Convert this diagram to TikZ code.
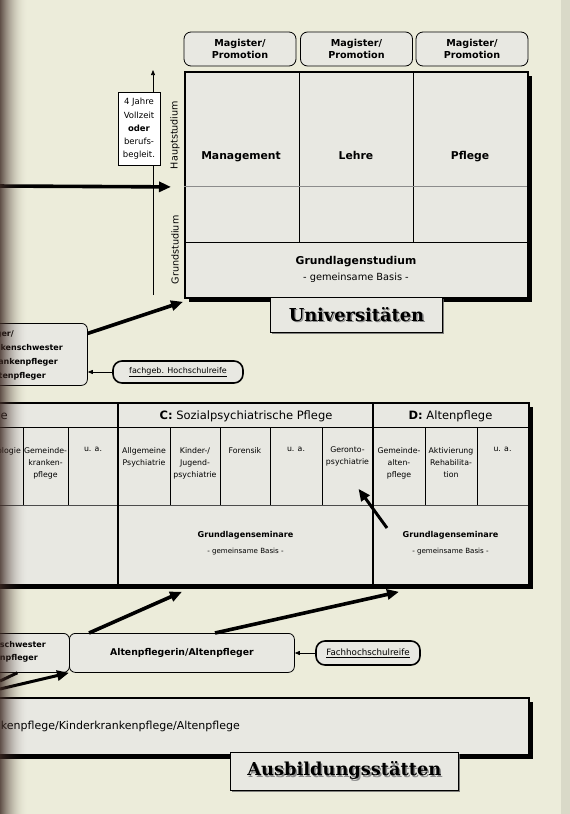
\documentclass[tikz,border=0pt]{standalone}
\usepackage{fontspec}
\setmainfont{DejaVu Sans}
\newfontfamily\titlefont{DejaVu Serif}
\usetikzlibrary{arrows.meta,shadows,calc}
\definecolor{bg}{RGB}{236,236,218}
\definecolor{boxfill}{RGB}{232,232,226}
\definecolor{bind}{RGB}{62,42,36}
\newcommand{\shadowtext}[1]{\makebox[0pt][l]{\hspace{1.4pt}\raisebox{-1.4pt}{\textcolor{black!45}{#1}}}#1}
\begin{document}
\begin{tikzpicture}[x=1pt,y=-1pt,
  frame/.style={draw=black, line width=1.8pt, fill=boxfill, inner sep=0pt, anchor=north west,
    drop shadow={shadow xshift=4.5pt, shadow yshift=-4.5pt, fill=black, opacity=1}},
  magbox/.style={draw=black, line width=0.8pt, rounded corners=7pt, fill=boxfill, minimum width=112pt,
    minimum height=34pt, inner sep=0pt, align=center, font=\bfseries\fontsize{9.6}{12.5}\selectfont},
  rbox/.style={draw=black, line width=0.8pt, rounded corners=6pt, fill=boxfill, inner sep=0pt, anchor=north west},
  pill/.style={draw=black, line width=1.6pt, rounded corners=9pt, fill=boxfill, inner sep=0pt},
  txt/.style={inner sep=0pt},
  frag/.style={inner sep=0pt, anchor=east, font=\bfseries\fontsize{8}{10}\selectfont},
  coltxt/.style={inner sep=0pt, align=center, anchor=north, font=\fontsize{7.8}{12}\selectfont},
  big/.style={line width=3.6pt, -{Triangle[length=12pt,width=10pt]}},
  thinarr/.style={line width=0.7pt, -{Triangle[length=5pt,width=4pt]}},
  grid/.style={line width=0.9pt},
  titlebox/.style={draw=black, line width=0.8pt, fill=boxfill, inner sep=0pt, anchor=north west,
    drop shadow={shadow xshift=2pt, shadow yshift=-2pt, fill=black!60, opacity=0.8}},
  titletxt/.style={inner sep=0pt, font=\titlefont\bfseries\fontsize{17.8}{20}\selectfont},
  head/.style={inner sep=0pt, anchor=base, font=\bfseries\fontsize{10.8}{13}\selectfont},
]
\fill[bg] (0,0) rectangle (570,814);
\useasboundingbox (0,0) rectangle (570,814);
\clip (0,0) rectangle (570,814);

% ---------- Universitaeten ----------
\node[magbox] (m1) at (240,49) {Magister/\\Promotion};
\node[magbox] (m2) at (356.5,49) {Magister/\\Promotion};
\node[magbox] (m3) at (472,49) {Magister/\\Promotion};

\node[frame, minimum width=343pt, minimum height=226pt] (uni) at (184,71) {};
\draw[grid] (299,71) -- (299,242);
\draw[grid] (413,71) -- (413,242);
\draw[line width=0.6pt, black!45] (184,186) -- (527,186);
\draw[grid] (184,242) -- (527,242);
\node[head] (tman) at (241,159) {Management};
\node[head] (tleh) at (356,159) {Lehre};
\node[head] (tpfl) at (470,159) {Pflege};
\node[head] (tgs) at (356,264) {Grundlagenstudium};
\node[txt, anchor=base, font=\fontsize{9.8}{12}\selectfont] (tgb) at (356,280) {- gemeinsame Basis -};

\node[txt, rotate=90, font=\fontsize{9.6}{11}\selectfont] (haupt) at (175,135) {Hauptstudium};
\node[txt, rotate=90, font=\fontsize{9.6}{11}\selectfont] (grund) at (175,250) {Grundstudium};

\coordinate (axb) at (153,295);
\coordinate (axt) at (153,70);
\draw[thinarr] (axb) -- (axt);
\node[draw, line width=0.6pt, fill=white, minimum width=42pt, minimum height=73pt, inner sep=0pt,
  align=center, font=\fontsize{8.5}{13.3}\selectfont] (jahre) at (139,129)
  {4 Jahre\\Vollzeit\\\textbf{oder}\\berufs-\\begleit.};

\coordinate (hin) at (-5,186);
\draw[big] (hin) -- ([xshift=-13pt,yshift=-2pt]uni.west);

\node[titlebox, minimum width=172pt, minimum height=35pt] (unibox) at (270,297) {};
\node[titletxt] (unitxt) at (unibox.center) {\shadowtext{Universitäten}};

% left upper box
\node[rbox, minimum width=130pt, minimum height=62pt] (lb1) at (-43,323) {};
\node[frag] (l1a) at (14,334) {Krankenpfleger/};
\node[frag] (l1b) at (63,348) {Kinderkrankenschwester};
\node[frag] (l1c) at (58,362) {Kinderkrankenpfleger};
\node[frag] (l1d) at (46,376) {Altenpfleger};
\draw[big] ([yshift=21pt]lb1.east) -- ([xshift=-1pt,yshift=-3pt]uni.south west);

\node[pill, minimum width=130pt, minimum height=22pt, font=\fontsize{8}{10}\selectfont] (fach) at (178,372)
  {\underline{fachgeb. Hochschulreife}};
\draw[thinarr] (fach.west) -- (fach.west -| lb1.east);

% ---------- middle box ----------
\node[frame, minimum width=548pt, minimum height=182pt] (mid) at (-20,402) {};
\draw[grid] (-20,427) -- (528,427);
\draw[line width=0.9pt, black!70] (-20,505) -- (528,505);
\foreach \cx in {23,68,170,220,270,322,425,477} {\draw[line width=0.7pt] (\cx,427) -- (\cx,505);}
\draw[line width=1.4pt] (118,402) -- (118,584);
\draw[line width=1.4pt] (373,402) -- (373,584);

\node[txt, anchor=base east, font=\fontsize{11.5}{13}\selectfont] (ha) at (8,419) {\textbf{A:} Krankenpflege};
\node[txt, anchor=base, font=\fontsize{11.5}{13}\selectfont] (hc) at (246,419) {\textbf{C:} Sozialpsychiatrische Pflege};
\node[txt, anchor=base, font=\fontsize{11.5}{13}\selectfont] (hd) at (450.5,419) {\textbf{D:} Altenpflege};

\node[coltxt, anchor=north east] (ca1) at (21,447) {Onkologie};
\node[coltxt] (ca2) at (45.5,447) {Gemeinde-\\kranken-\\pflege};
\node[coltxt] (ca3) at (93,447) {u. a.};
\node[coltxt] (cc1) at (144,447) {Allgemeine\\Psychiatrie};
\node[coltxt] (cc2) at (195,447) {Kinder-/\\Jugend-\\psychiatrie};
\node[coltxt] (cc3) at (245,447) {Forensik};
\node[coltxt] (cc4) at (296,447) {u. a.};
\node[coltxt] (gero) at (347.5,447) {Geronto-\\psychiatrie};
\node[coltxt] (cd1) at (399,447) {Gemeinde-\\alten-\\pflege};
\node[coltxt] (cd2) at (451,447) {Aktivierung\\Rehabilita-\\tion};
\node[coltxt] (cd3) at (502.5,447) {u. a.};

\node[txt, font=\bfseries\fontsize{8.1}{10}\selectfont] (gsc) at (245.5,535) {Grundlagenseminare};
\node[txt, font=\fontsize{7.1}{9}\selectfont] (gbc) at (245.5,552) {- gemeinsame Basis -};
\node[txt, font=\bfseries\fontsize{8.1}{10}\selectfont] (gsd) at (450.5,535) {Grundlagenseminare};
\node[txt, font=\fontsize{7.1}{9}\selectfont] (gbd) at (450.5,552) {- gemeinsame Basis -};

\coordinate (gt) at (387,528);
\draw[big, line width=3pt] (gt) -- ([xshift=11pt,yshift=-22pt]gero.south);

% ---------- lower boxes ----------
\node[rbox, minimum width=112pt, minimum height=39pt] (lb2) at (-43,633) {};
\node[frag] (l2a) at (46,645) {Kinderkrankenschwester};
\node[frag] (l2b) at (38,658) {Krankenpfleger};
\node[rbox, minimum width=225pt, minimum height=39pt, font=\bfseries\fontsize{9.3}{11}\selectfont] (alt) at (69,633)
  {Altenpflegerin/Altenpfleger};

\node[pill, minimum width=104pt, minimum height=24pt, font=\fontsize{8.7}{10}\selectfont] (fh) at (368,653)
  {\underline{Fachhochschulreife}};
\draw[thinarr] (fh.west) -- (fh.west -| alt.east);

\draw[big] ([xshift=20pt]alt.north west) -- ($(mid.south west)+(202,6)$);
\draw[big] ([xshift=146pt]alt.north west) -- ($(mid.south west)+(419,6)$);

% ---------- Ausbildungsstaetten ----------
\node[frame, line width=1.6pt, minimum width=548pt, minimum height=57pt] (ausb) at (-20,697) {};
\node[txt, anchor=east, font=\fontsize{11}{13}\selectfont] (atx) at (240,726) {Krankenpflege/Kinderkrankenpflege/Altenpflege};
\node[titlebox, minimum width=228pt, minimum height=38pt] (ausbbox) at (230,752) {};
\node[titletxt] (ausbtxt) at (ausbbox.center) {\shadowtext{Ausbildungsstätten}};

\coordinate (s1) at (0,689);
\coordinate (s2) at (0,681);
\draw[big, line width=3pt] (s1) -- (alt.south west);
\draw[line width=3pt] (s2) -- ([xshift=4pt]lb2.south);

% ---------- page edges ----------
\foreach \i in {0,...,27} {
  \pgfmathsetmacro{\op}{0.8*(1-\i/28)^2}
  \fill[bind, opacity=\op] (\i,0) rectangle (\i+1.05,814);
}
\fill[black, opacity=0.08] (561,0) rectangle (570,814);
\end{tikzpicture}
\end{document}
